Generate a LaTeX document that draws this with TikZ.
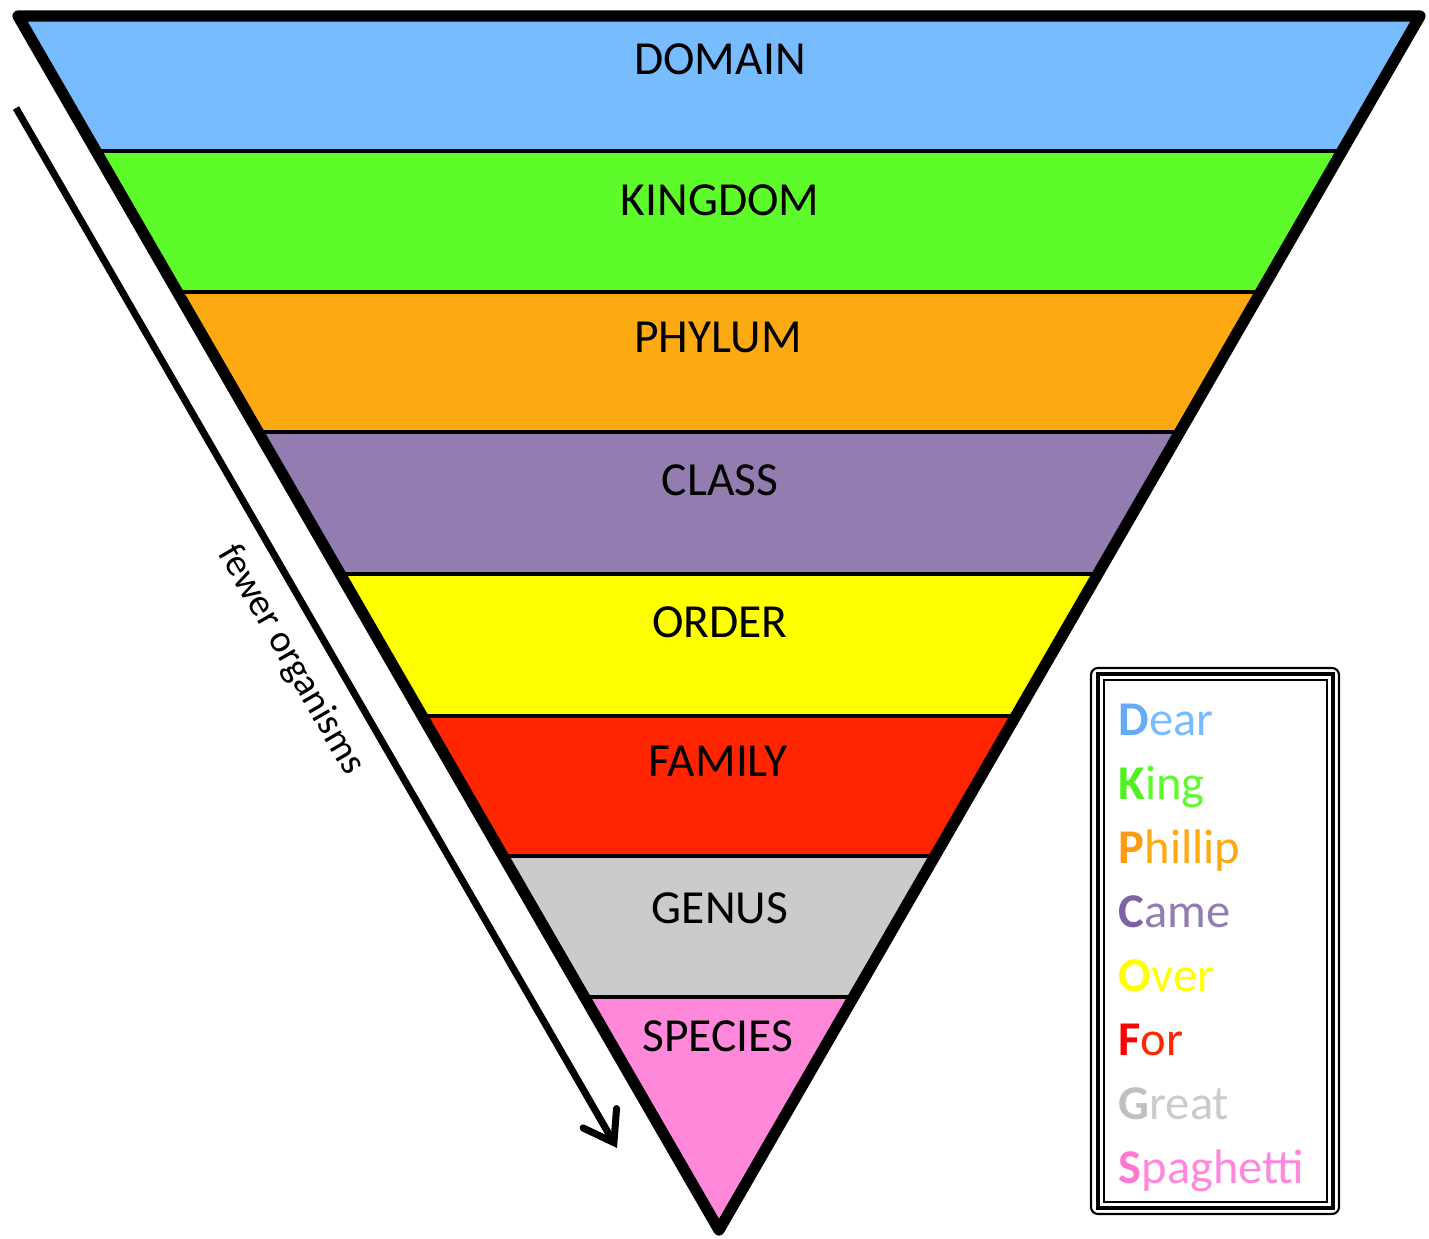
\documentclass[tikz,border=0pt]{standalone}
\usepackage{fontspec}
\setmainfont{Carlito}
\usetikzlibrary{arrows.meta}

\definecolor{domainblue}{HTML}{77BCFF}
\definecolor{kingdomgreen}{HTML}{5EFB2A}
\definecolor{phylumorange}{HTML}{FDA912}
\definecolor{classpurple}{HTML}{927CB0}
\definecolor{orderyellow}{HTML}{FFFF00}
\definecolor{familyred}{HTML}{FF2500}
\definecolor{genusgrey}{HTML}{CBCBCB}
\definecolor{speciespink}{HTML}{FF88DA}

\tikzset{
  rank/.style={font=\fontsize{13.5}{16}\selectfont, anchor=base, inner sep=0pt},
  bandline/.style={line width=0.95pt},
  mnemo/.style={font=\fontsize{13.8}{16}\selectfont, anchor=base west, inner sep=0pt},
}

\begin{document}
\begin{tikzpicture}[x=0.01cm, y=-0.01cm]
        \useasboundingbox (0,0) rectangle (1429,1239);

        \coordinate (tl) at (18,16);
        \coordinate (tr) at (1420,16);
        \coordinate (apex) at (719,1230);

        % Coloured bands of the funnel
        \begin{scope}
          \clip (tl) -- (tr) -- (apex) -- cycle;
          \fill[domainblue]   (0,0)   rectangle (1429,151);
          \fill[kingdomgreen] (0,151) rectangle (1429,292);
          \fill[phylumorange] (0,292) rectangle (1429,432);
          \fill[classpurple]  (0,432) rectangle (1429,574);
          \fill[orderyellow]  (0,574) rectangle (1429,716);
          \fill[familyred]    (0,716) rectangle (1429,856);
          \fill[genusgrey]    (0,856) rectangle (1429,997);
          \fill[speciespink]  (0,997) rectangle (1429,1239);

          \draw[bandline] (0,151) -- (1429,151);
          \draw[bandline] (0,292) -- (1429,292);
          \draw[bandline] (0,432) -- (1429,432);
          \draw[bandline] (0,574) -- (1429,574);
          \draw[bandline] (0,716) -- (1429,716);
          \draw[bandline] (0,856) -- (1429,856);
          \draw[bandline] (0,997) -- (1429,997);
        \end{scope}

        % Thick outline
        \draw[line width=3.2pt, line join=round] (tl) -- (tr) -- (apex) -- cycle;

        \node[rank] (domain)  at (720,74)   {DOMAIN};
        \node[rank] (kingdom) at (720,215)  {KINGDOM};
        \node[rank] (phylum)  at (718,352)  {PHYLUM};
        \node[rank] (class)   at (720,495)  {CLASS};
        \node[rank] (order)   at (720,637)  {ORDER};
        \node[rank] (family)  at (718,776)  {FAMILY};
        \node[rank] (genus)   at (720,923)  {GENUS};
        \node[rank] (species) at (718,1051) {SPECIES};

        % Arrow along the left side
        \coordinate (arrowstart) at (16,108);
        \coordinate (arrowend) at (617,1148);
        \draw[line width=2pt, -{Straight Barb[length=8pt, width=11pt, line cap=round]}] (arrowstart) -- (arrowend);
        \node[rotate=-60, font=\fontsize{11}{13}\selectfont] (fewer) at (291,660) {fewer organisms};

        % Mnemonic box
        \draw[line width=0.6pt, rounded corners=2pt] (1091,668) rectangle (1339,1214);
        \draw[line width=1.4pt] (1098,674) rectangle (1333,1208);
        \draw[line width=0.6pt] (1104,680) rectangle (1327,1202);

        \node[mnemo, text=domainblue]   (dear)      at (1118,735)  {\textcolor[HTML]{66ABFA}{\textbf{D}}ear};
        \node[mnemo, text=kingdomgreen] (king)      at (1118,799)  {\textcolor[HTML]{4EF01E}{\textbf{K}}ing};
        \node[mnemo, text=phylumorange] (phillip)   at (1118,863)  {\textcolor[HTML]{FF9A12}{\textbf{P}}hillip};
        \node[mnemo, text=classpurple]  (came)      at (1118,927)  {\textcolor[HTML]{7D62A6}{\textbf{C}}ame};
        \node[mnemo, text=orderyellow]  (over)      at (1118,991)  {\textbf{O}ver};
        \node[mnemo, text=familyred]    (for)       at (1118,1055) {\textcolor[HTML]{FF0000}{\textbf{F}}or};
        \node[mnemo, text=genusgrey]    (great)     at (1118,1119) {\textcolor[HTML]{C0C0C0}{\textbf{G}}reat};
        \node[mnemo, text=speciespink]  (spaghetti) at (1118,1183) {\textcolor[HTML]{FF77D0}{\textbf{S}}paghetti};
      \end{tikzpicture}
\end{document}
